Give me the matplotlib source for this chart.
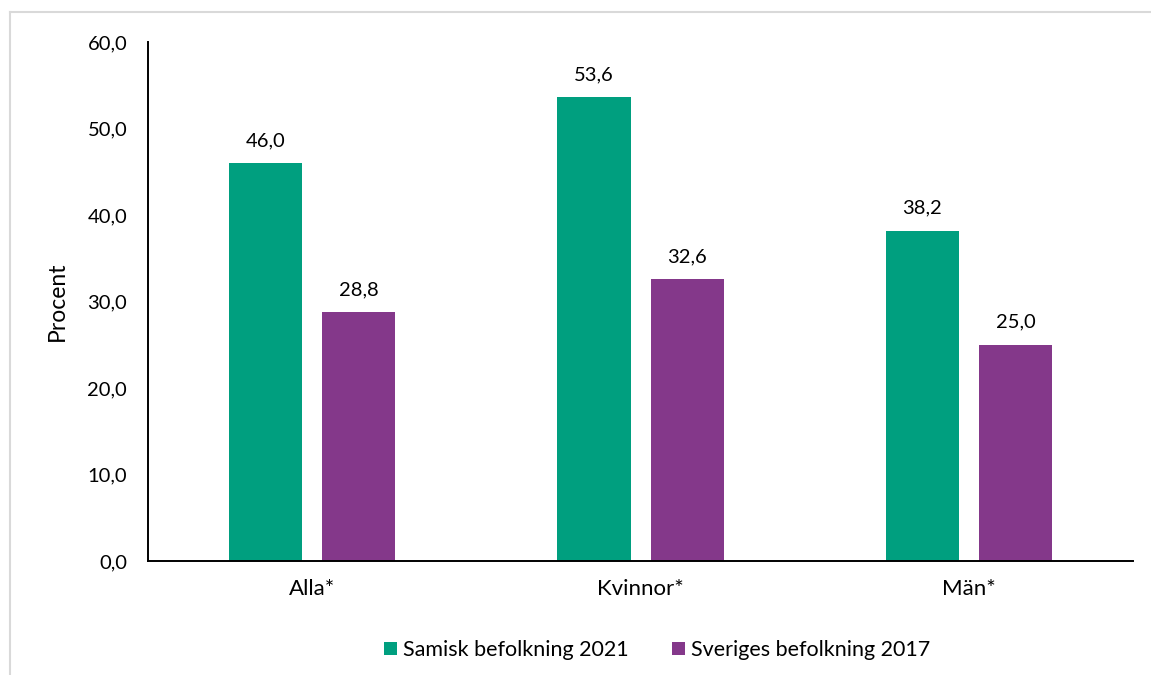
import matplotlib
matplotlib.use("Agg")
import matplotlib.pyplot as plt
import numpy as np
from matplotlib.lines import Line2D

categories = ["Alla*", "Kvinnor*", "Män*"]
samisk_2021 = [46.0, 53.6, 38.2]
sverige_2017 = [28.8, 32.6, 25.0]
series_names = ["Samisk befolkning 2021", "Sveriges befolkning 2017"]
y_ticks = [0, 10, 20, 30, 40, 50, 60]

GREEN = "#009F7F"
PURPLE = "#84388A"

plt.rcParams["font.family"] = ["Lato", "DejaVu Sans"]


def fmt(v):
    return f"{v:.1f}".replace(".", ",")


fig = plt.figure(figsize=(11.51, 6.75), dpi=100)
ax = fig.add_axes([0.1286, 0.1689, 0.8558, 0.7689])

# light gray frame around the chart area (top and left visible)
fig.add_artist(Line2D([10 / 1151, 1.0], [1 - 12 / 675] * 2, color="#d9d9d9", lw=1.5,
                      transform=fig.transFigure))
fig.add_artist(Line2D([10 / 1151] * 2, [0.0, 1 - 12 / 675], color="#d9d9d9", lw=1.5,
                      transform=fig.transFigure))

x = np.arange(len(categories))
width = 0.223
offset = 0.142

b1 = ax.bar(x - offset, samisk_2021, width, color=GREEN, label=series_names[0])
b2 = ax.bar(x + offset, sverige_2017, width, color=PURPLE, label=series_names[1])

for bars, vals in [(b1, samisk_2021), (b2, sverige_2017)]:
    for rect, v in zip(bars, vals):
        ax.annotate(fmt(v), (rect.get_x() + rect.get_width() / 2, v),
                    xytext=(0, 10), textcoords="offset points",
                    ha="center", va="bottom", fontsize=14.5, color="#000000")

ax.set_xlim(-0.5, 2.5)
ax.set_ylim(0, 60)
ax.set_yticks(y_ticks)
ax.set_yticklabels([fmt(t) for t in y_ticks], fontsize=14.5)
ax.set_xticks(x)
ax.set_xticklabels(categories, fontsize=16)
ax.tick_params(axis="y", length=0, pad=15)
ax.tick_params(axis="x", length=0, pad=13)
ax.set_ylabel("Procent", fontsize=16.5, labelpad=14)

for s in ["top", "right"]:
    ax.spines[s].set_visible(False)
for s in ["left", "bottom"]:
    ax.spines[s].set_linewidth(1.4)
    ax.spines[s].set_color("#000000")

fig.legend(handles=[b1, b2], labels=series_names, loc="center",
           bbox_to_anchor=(657 / 1151, 1 - 650 / 675), ncol=2, frameon=False,
           fontsize=15.5, handlelength=0.6, handleheight=0.6, handletextpad=0.3,
           columnspacing=2.0)

fig.savefig("out.png", dpi=100)
